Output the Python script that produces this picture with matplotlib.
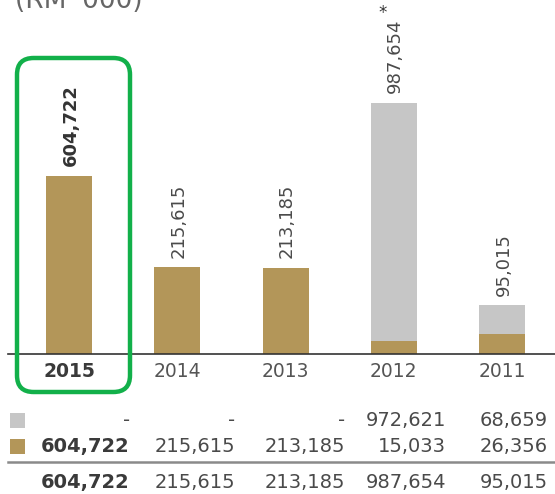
import matplotlib
matplotlib.use("Agg")
import matplotlib.pyplot as plt
from matplotlib.patches import FancyBboxPatch, Rectangle
import numpy as np

years = ["2015", "2014", "2013", "2012", "2011"]
brown_vals = [604722, 215615, 213185, 15033, 26356]
grey_vals = [0, 0, 0, 972621, 68659]
totals = [604722, 215615, 213185, 987654, 95015]
grey_row = ["-", "-", "-", "972,621", "68,659"]
brown_row = ["604,722", "215,615", "213,185", "15,033", "26,356"]
total_row = ["604,722", "215,615", "213,185", "987,654", "95,015"]
title = "(RM '000)"

BROWN = "#b39659"
GREY = "#c6c6c6"
TXT = "#4a4a4a"
W, H = 555, 494
plt.rcParams['font.family'] = ['DejaVu Sans']

fig = plt.figure(figsize=(W / 100, H / 100), dpi=100)

def fx(px):
    return px / W

def fy(py):
    return 1 - py / H

# axes: baseline at y=354 px, top at figure top
base = 354
ax = fig.add_axes([fx(8), fy(base), fx(555) - fx(8), (base) / H])
p = 0.7
fwd = lambda v: np.sign(v) * np.abs(v) ** p
inv = lambda v: np.sign(v) * np.abs(v) ** (1 / p)
ax.set_yscale('function', functions=(fwd, inv))
ymax = (987654 ** p * base / 251) ** (1 / p)
ax.set_ylim(0, ymax)
x = np.arange(len(years))
unit = (502 - 69) / 4
ax.set_xlim((8 - 69) / unit, (555 - 69) / unit)
bw = 46 / unit
ax.bar(x, brown_vals, width=bw, color=BROWN, zorder=2)
ax.bar(x, grey_vals, width=bw, bottom=brown_vals, color=GREY, zorder=2)
for s in ["top", "right", "left"]:
    ax.spines[s].set_visible(False)
ax.spines["bottom"].set_color("#333333")
ax.spines["bottom"].set_linewidth(1.2)
ax.set_xticks([])
ax.set_yticks([])
ax.patch.set_alpha(0)

for i, t in enumerate(totals):
    bold = i == 0
    ax.annotate(f"{t:,}", (x[i], t), xytext=(1, 7), textcoords="offset points",
                rotation=90, ha="center", va="bottom", fontsize=13,
                fontweight="bold" if bold else "normal",
                color="#333333" if bold else TXT)
ax.annotate("*", (x[3], totals[3]), xytext=(-8, 58), textcoords="offset points",
            ha="center", va="bottom", fontsize=12, color="#333333")

# year labels
for i, yr in enumerate(years):
    ax.annotate(yr, (x[i], 0), xytext=(0, -12.5), textcoords="offset points",
                ha="center", va="center", fontsize=13.5,
                fontweight="bold" if i == 0 else "normal",
                color="#3a3a3a" if i == 0 else "#555555")

# title (partially cut off at top, as in the reference)
fig.text(fx(15), fy(14), title, ha="left", va="bottom", fontsize=19, color="#666666")

# green highlight box
box = FancyBboxPatch((fx(17), fy(392)), fx(130) - fx(17), fy(58) - fy(392),
                     boxstyle="round,pad=0,rounding_size=0.03",
                     transform=fig.transFigure, fill=False,
                     edgecolor="#12b04a", linewidth=3.2, zorder=5,
                     mutation_aspect=W / H)
fig.add_artist(box)

# table
col_right = [130, 235, 345, 446, 548]
rows = [(grey_row, 420), (brown_row, 446), (total_row, 482)]
for r, (vals, yy) in enumerate(rows):
    for c, v in enumerate(vals):
        bold = (c == 0 and r > 0)
        fig.text(fx(col_right[c]), fy(yy), v, ha="right", va="center", fontsize=14,
                 fontweight="bold" if bold else "normal",
                 color="#3a3a3a" if bold else TXT)

fig.add_artist(Rectangle((fx(10), fy(428)), fx(15), 15 / H, transform=fig.transFigure,
                         color=GREY, lw=0))
fig.add_artist(Rectangle((fx(10), fy(454)), fx(15), 15 / H, transform=fig.transFigure,
                         color=BROWN, lw=0))
fig.add_artist(plt.Line2D([fx(8), fx(555)], [fy(462), fy(462)], transform=fig.transFigure,
                          color="#8a8a8a", lw=1.8))

fig.savefig("out.png", dpi=100)
